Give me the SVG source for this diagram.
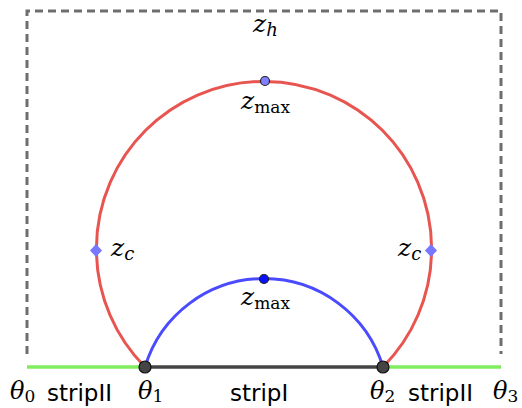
<svg xmlns="http://www.w3.org/2000/svg" width="522" height="408" viewBox="0 0 522 408">
<style>
.math{font-family:"DejaVu Serif","Liberation Serif",serif;font-style:italic;fill:#000}
.up{font-style:normal}
.sf{font-family:"DejaVu Sans","Liberation Sans",sans-serif;font-size:23px;fill:#000}
</style>
<rect width="522" height="408" fill="#fff"/>
<g id="connectors" fill="none">
<path id="box" d="M27,354 V11 H501 V354" stroke="#6e6e6e" stroke-width="3" stroke-dasharray="8,5"/>
<path id="stripII-left" d="M27,367 H145" stroke="#80ec60" stroke-width="3.5"/>
<path id="stripII-right" d="M383,367 H501" stroke="#80ec60" stroke-width="3.5"/>
<path id="stripI" d="M145,367 H383" stroke="#444" stroke-width="3.5"/>
<path id="red-arc" d="M145,367 A167.6,167.6 0 1 1 383,367" stroke="#e85550" stroke-width="3"/>
<path id="blue-arc" d="M145,367 A124.3,124.3 0 0 1 383,367" stroke="#4a4aff" stroke-width="3"/>
</g>
<g id="zmax-red"><circle cx="265" cy="81" r="4.5" fill="#8080ff" stroke="#222" stroke-width="1.2"/>
<text class="math" x="241" y="109" font-size="25">z<tspan class="up" font-size="17" dy="4">max</tspan></text></g>
<g id="zmax-blue"><circle cx="264" cy="279" r="4.5" fill="#0a10ff" stroke="#222" stroke-width="1.2"/>
<text class="math" x="241" y="305" font-size="25">z<tspan class="up" font-size="17" dy="4">max</tspan></text></g>
<g id="zh"><text class="math" x="253" y="32" font-size="25">z<tspan font-size="18" dy="4">h</tspan></text></g>
<g id="zc-left"><path d="M96,244 L102,250.5 L96,257 L90,250.5 Z" fill="#7878ff"/>
<text class="math" x="111" y="256" font-size="25">z<tspan font-size="18" dy="4">c</tspan></text></g>
<g id="zc-right"><path d="M431,244 L437,250.5 L431,257 L425,250.5 Z" fill="#7878ff"/>
<text class="math" x="398" y="256" font-size="25">z<tspan font-size="18" dy="4">c</tspan></text></g>
<g id="theta1"><circle cx="145" cy="367" r="6" fill="#444" stroke="#111" stroke-width="1.2"/>
<text class="math" x="138" y="399" font-size="24">θ<tspan class="up" font-size="17" dy="3">1</tspan></text></g>
<g id="theta2"><circle cx="383" cy="367" r="6" fill="#444" stroke="#111" stroke-width="1.2"/>
<text class="math" x="370" y="399" font-size="24">θ<tspan class="up" font-size="17" dy="3">2</tspan></text></g>
<g id="theta0"><text class="math" x="10" y="399" font-size="24">θ<tspan class="up" font-size="17" dy="3">0</tspan></text></g>
<g id="theta3"><text class="math" x="493" y="399" font-size="24">θ<tspan class="up" font-size="17" dy="3">3</tspan></text></g>
<g id="labels">
<text class="sf" x="47" y="401">stripII</text>
<text class="sf" x="230" y="401">stripI</text>
<text class="sf" x="408" y="401">stripII</text>
</g>
</svg>
